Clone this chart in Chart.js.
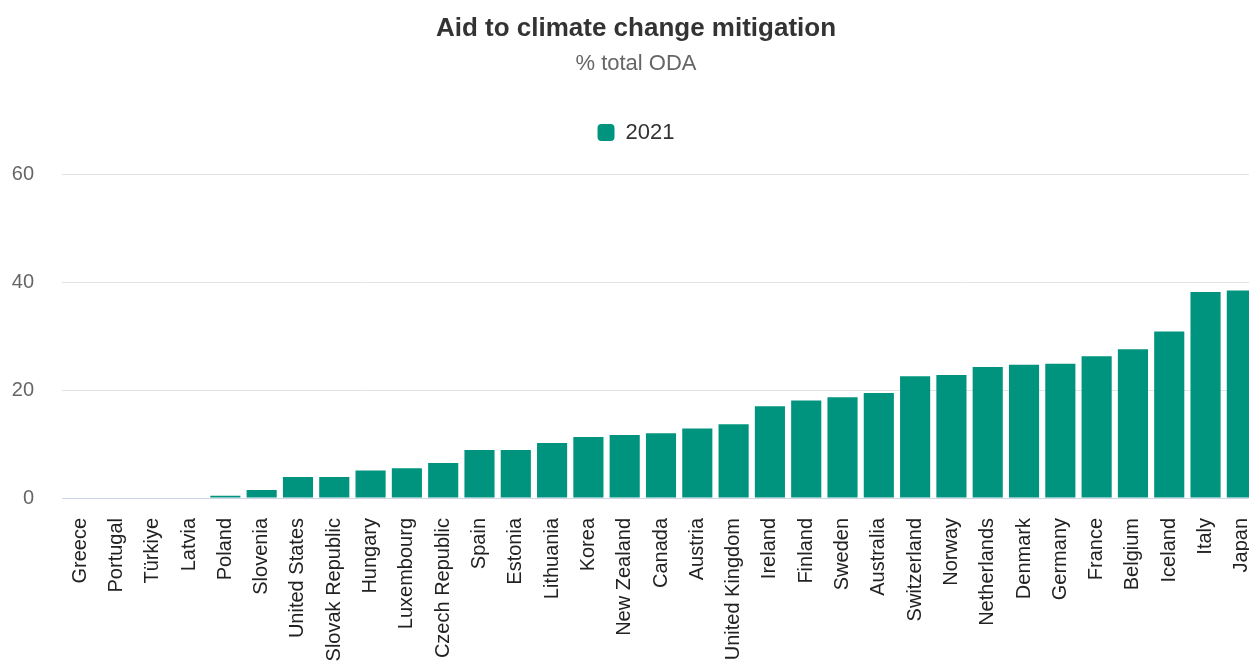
<!DOCTYPE html>
<html>
<head>
<meta charset="utf-8">
<title>Aid to climate change mitigation</title>
<script src="https://cdn.jsdelivr.net/npm/chart.js@4/dist/chart.umd.min.js"></script>
<style>
  html, body { margin: 0; padding: 0; background: #fff; overflow: hidden; }
  #wrap { width: 1270px; height: 664px; }
</style>
</head>
<body>
<div id="wrap"><canvas id="mitigation_chart" width="1270" height="664"></canvas></div>
<script>
const countries = [
  "Greece", "Portugal", "Türkiye", "Latvia", "Poland", "Slovenia",
  "United States", "Slovak Republic", "Hungary", "Luxembourg",
  "Czech Republic", "Spain", "Estonia", "Lithuania", "Korea",
  "New Zealand", "Canada", "Austria", "United Kingdom", "Ireland",
  "Finland", "Sweden", "Australia", "Switzerland", "Norway",
  "Netherlands", "Denmark", "Germany", "France", "Belgium",
  "Iceland", "Italy", "Japan",
];

// % of total ODA, 2021
const share_2021 = [
  0, 0, 0, 0, 0.4, 1.5,
  3.9, 3.9, 5.1, 5.5,
  6.5, 8.9, 8.9, 10.2, 11.3,
  11.7, 12.0, 12.9, 13.7, 17.0,
  18.1, 18.7, 19.5, 22.6, 22.8,
  24.3, 24.7, 24.9, 26.3, 27.6,
  30.9, 38.2, 38.5,
];

const y_ticks = [0, 20, 40, 60];

const FONT = "'Liberation Sans', Arial, Helvetica, sans-serif";
const TEAL = "#00947e";

// push the plot down a bit below the legend
const legend_gap = {
  id: "legend_gap",
  beforeInit(chart) {
    const fit = chart.legend.fit;
    chart.legend.fit = function () {
      fit.bind(chart.legend)();
      this.height += 21;
    };
  },
};

var canvas = document.getElementById("mitigation_chart");

const chart = new Chart(canvas, {
  type: "bar",
  data: {
    labels: countries,
    datasets: [
      {
        label: "2021",
        data: share_2021,
        backgroundColor: TEAL,
        borderRadius: 0,
        categoryPercentage: 1,
        barPercentage: 0.83,
      },
    ],
  },
  options: {
    responsive: false,
    animation: false,
    layout: { padding: { left: 12, right: 10, top: 0, bottom: 3 } },
    plugins: {
      title: {
        display: true,
        text: "Aid to climate change mitigation",
        color: "#333333",
        font: { family: FONT, size: 26, weight: "bold" },
        padding: { top: 13, bottom: 0 },
      },
      subtitle: {
        display: true,
        text: "% total ODA",
        color: "#666666",
        font: { family: FONT, size: 22 },
        padding: { top: 7, bottom: 34 },
      },
      legend: {
        display: true,
        labels: {
          color: "#333333",
          font: { family: FONT, size: 22 },
          boxWidth: 17,
          boxHeight: 17,
          useBorderRadius: true,
          borderRadius: 4,
          padding: 10,
        },
      },
      tooltip: { enabled: false },
    },
    scales: {
      x: {
        grid: { display: false, drawTicks: false },
        border: { display: true, color: "#ccd6eb", width: 1 },
        ticks: {
          autoSkip: false,
          minRotation: 90,
          maxRotation: 90,
          padding: 20,
          color: "#222222",
          font: { family: FONT, size: 20 },
        },
        afterFit(axis) {
          // upright labels need no side room, and the band only as deep as the longest name
          axis.paddingLeft = 0;
          axis.paddingRight = 0;
          axis.height = 163;
        },
      },
      y: {
        min: 0,
        max: 60,
        afterBuildTicks(axis) {
          axis.ticks = y_ticks.map((v) => ({ value: v }));
        },
        afterFit(axis) {
          axis.width = 50;
        },
        grid: {
          color: (ctx) => (ctx.tick && ctx.tick.value === 0 ? "rgba(0,0,0,0)" : "#e3e3e3"),
          lineWidth: 1,
          drawTicks: false,
        },
        border: { display: false },
        ticks: {
          padding: 28,
          color: "#666666",
          font: { family: FONT, size: 20 },
        },
      },
    },
  },
  plugins: [legend_gap],
});
</script>
</body>
</html>
